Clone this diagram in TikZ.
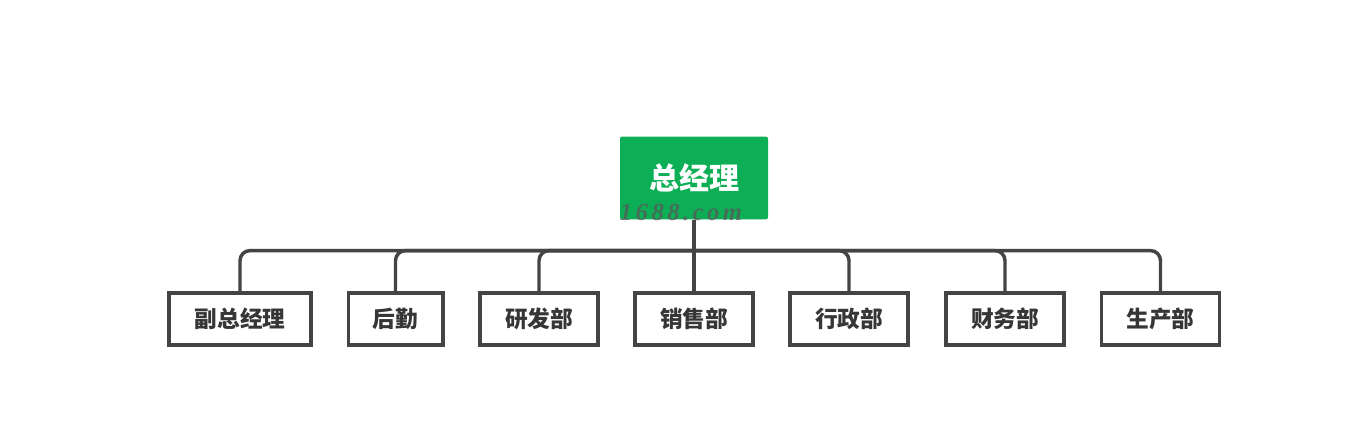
\documentclass[tikz,border=0pt]{standalone}
\usepackage{fontspec}
\newfontfamily\cjk{Noto Sans CJK SC}
\newfontfamily\wmfont{Liberation Serif}[LetterSpace=14]
\usetikzlibrary{positioning}
\definecolor{boss}{HTML}{0CAF56}
\definecolor{ink}{HTML}{444444}
\tikzset{
  dept/.style={draw=ink, line width=2.5pt, fill=white, minimum height=39pt,
    minimum width=88.5pt, inner sep=0pt, font=\cjk\bfseries\fontsize{17}{20}\selectfont, text=ink!80!black},
  link/.style={draw=ink, line width=2.6pt, rounded corners=7.5pt}
}
\begin{document}
\begin{tikzpicture}[x=0.75pt, y=-0.75pt]
    \useasboundingbox (0,0) rectangle (1361,421);
    % top box
    \node[fill=boss, rounded corners=1.5pt, minimum width=111pt, minimum height=62pt,
      text=white, font=\cjk\bfseries\fontsize{22.5}{26}\selectfont] (root) at (694,178) {总经理};
    \node[text=gray!70!black, opacity=0.75, font=\wmfont\bfseries\itshape\fontsize{18.5}{22}\selectfont] (mark) at (681,212) {1688.com};
    % departments
    \node[dept, minimum width=106.5pt] (fu) at (240,319) {副总经理};
    \node[dept, minimum width=71pt] (hq) at (395.5,319) {后勤};
    \node[dept] (yf) at (539,319) {研发部};
    \node[dept] (xs) at (694,319) {销售部};
    \node[dept] (xz) at (849,319) {行政部};
    \node[dept] (cw) at (1005,319) {财务部};
    \node[dept] (sc) at (1160.5,319) {生产部};
    \coordinate[below=23.25pt of root.south] (j);
    \draw[link] (root.south) -- (j);
    \foreach \d in {fu,hq,yf,xs,xz,cw,sc}
        \draw[link] (\d.north) |- (j);
\end{tikzpicture}
\end{document}
